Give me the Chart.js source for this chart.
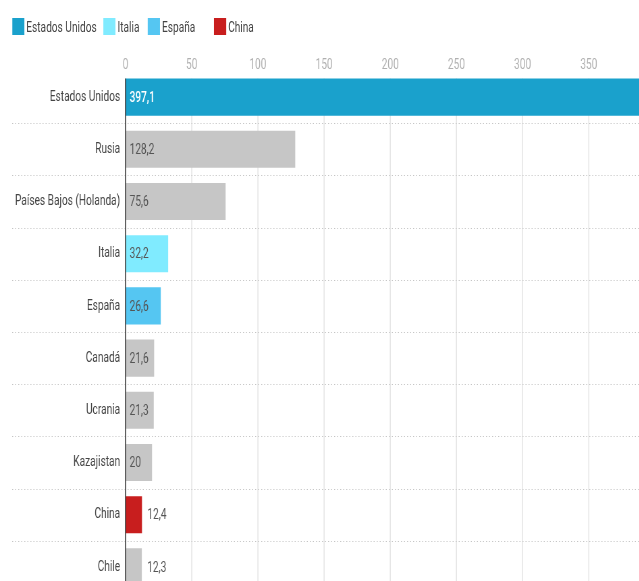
<!DOCTYPE html>
<html>
<head>
<meta charset="utf-8">
<script src="https://cdn.jsdelivr.net/npm/chart.js@4.4.1/dist/chart.umd.min.js"></script>
<style>
  html, body { margin: 0; padding: 0; background: #fff; overflow: hidden; width: 639px; height: 581px; }
  #wrap { position: relative; width: 980px; height: 610px; transform: scaleX(0.675); transform-origin: 0 0; }
  #legend { position: absolute; left: 18px; top: 18px; height: 17px;
            font-family: Roboto, sans-serif; font-size: 15px; color: #444; }
  #legend .item { position: absolute; top: 0; display: flex; align-items: center; white-space: nowrap; height: 17px; }
  #legend .box { width: 18px; height: 17px; margin-right: 3px; flex: none; }
  canvas { position: absolute; left: 0; top: 0; }
</style>
</head>
<body>
<div id="wrap">
  <canvas id="c" width="980" height="610"></canvas>
  <div id="legend"></div>
</div>
<script>
const categories = ['Estados Unidos', 'Rusia', 'Países Bajos (Holanda)', 'Italia', 'España', 'Canadá', 'Ucrania', 'Kazajistan', 'China', 'Chile'];
const values = [397.1, 128.2, 75.6, 32.2, 26.6, 21.6, 21.3, 20, 12.4, 12.3];
const highlightNames = ['Estados Unidos', 'Italia', 'España', 'China'];
const highlightColors = ['#1aa1cc', '#80ebff', '#55c6f2', '#c81e1e'];
const otherColor = '#c6c6c6';
const xTicks = [0, 50, 100, 150, 200, 250, 300, 350, 400];

const FONT = "Roboto, sans-serif";
const legendOffsets = [0, 135, 201, 299];

const barColors = categories.map(c => {
  const i = highlightNames.indexOf(c);
  return i >= 0 ? highlightColors[i] : otherColor;
});

// HTML legend
const leg = document.getElementById('legend');
highlightNames.forEach((n, i) => {
  const it = document.createElement('div'); it.className = 'item'; it.style.left = legendOffsets[i] + 'px';
  const b = document.createElement('div'); b.className = 'box'; b.style.background = highlightColors[i];
  const t = document.createElement('span'); t.textContent = n;
  it.appendChild(b); it.appendChild(t); leg.appendChild(it);
});

const fmt = v => String(v).replace('.', ',');

const decor = {
  id: 'decor',
  beforeDatasetsDraw(chart) {
    const { ctx, chartArea, scales } = chart;
    const xs = scales.x, ys = scales.y;
    const meta = chart.getDatasetMeta(0);
    const first = meta.data[0];
    const top = first.y - first.height / 2;
    ctx.save();
    ctx.strokeStyle = '#e4e4e4'; ctx.lineWidth = 1.5;
    xTicks.forEach(t => {
      const x = xs.getPixelForValue(t);
      ctx.beginPath(); ctx.moveTo(x, top); ctx.lineTo(x, chartArea.bottom); ctx.stroke();
    });
    ctx.strokeStyle = '#c4c4c4'; ctx.lineWidth = 1; ctx.setLineDash([1.5, 3]);
    for (let i = 0; i < categories.length - 1; i++) {
      const y = Math.round((ys.getPixelForValue(i) + ys.getPixelForValue(i + 1)) / 2) + 0.5;
      ctx.beginPath(); ctx.moveTo(18, y); ctx.lineTo(chartArea.right, y); ctx.stroke();
    }
    ctx.restore();
  },
  afterDatasetsDraw(chart) {
    const { ctx, chartArea, scales } = chart;
    const meta = chart.getDatasetMeta(0);
    const first = meta.data[0];
    const top = first.y - first.height / 2;
    ctx.save();
    const x0 = scales.x.getPixelForValue(0);
    ctx.strokeStyle = '#333'; ctx.lineWidth = 1.5;
    ctx.beginPath(); ctx.moveTo(x0, top); ctx.lineTo(x0, chartArea.bottom); ctx.stroke();
    ctx.textBaseline = 'middle'; ctx.textAlign = 'left';
    meta.data.forEach((bar, i) => {
      const txt = fmt(values[i]);
      ctx.font = (i === 0 ? '500 ' : '') + '15px ' + FONT;
      const w = ctx.measureText(txt).width;
      const bw = bar.x - bar.base;
      let x, color;
      if (bw >= w + 8) { x = bar.base + 6; color = i === 0 ? '#ffffff' : '#555'; }
      else { x = bar.x + 8; color = '#555'; }
      ctx.fillStyle = color;
      ctx.fillText(txt, x, bar.y + 1);
    });
    ctx.restore();
  }
};

new Chart(document.getElementById('c'), {
  type: 'bar',
  data: {
    labels: categories,
    datasets: [{ data: values, backgroundColor: barColors, borderWidth: 0,
                 categoryPercentage: 1, barPercentage: 0.71 }]
  },
  options: {
    indexAxis: 'y',
    responsive: false,
    animation: false,
    layout: { padding: { left: 0, right: 8, top: 0, bottom: 16 } },
    plugins: { legend: { display: false }, tooltip: { enabled: false } },
    scales: {
      x: {
        position: 'top', min: 0, max: 400,
        afterBuildTicks: s => { s.ticks = xTicks.map(v => ({ value: v })); },
        afterFit: s => { s.height = 71; },
        grid: { display: false, drawTicks: false },
        border: { display: false },
        ticks: { color: '#b0b0b0', padding: -3, font: { family: FONT, size: 15 } }
      },
      y: {
        afterFit: s => { s.width = 186; },
        grid: { display: false, drawTicks: false },
        border: { display: false },
        ticks: { color: '#444', padding: 8, font: { family: FONT, size: 15 } }
      }
    }
  },
  plugins: [decor]
});
</script>
</body>
</html>
